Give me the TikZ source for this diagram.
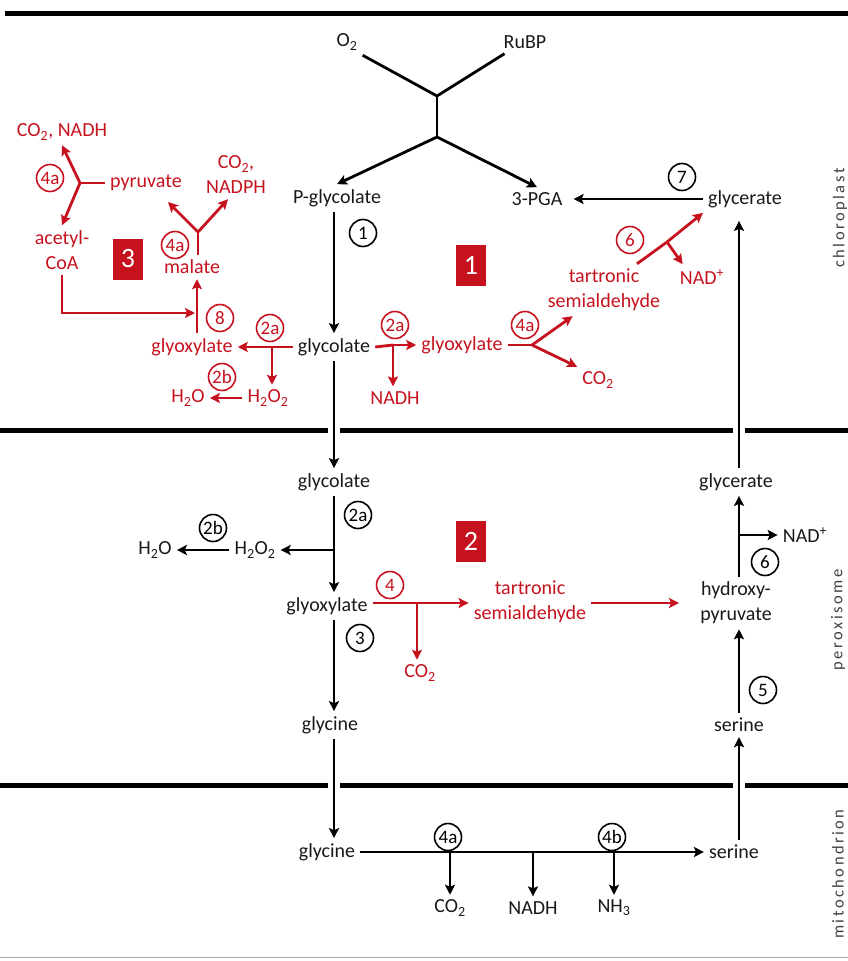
\documentclass[tikz,border=0pt]{standalone}
\usepackage{fontspec}
\setmainfont{Carlito}
\newfontfamily\sidefont[LetterSpace=15]{Carlito}
\usetikzlibrary{arrows.meta}
\definecolor{pathred}{RGB}{198,18,30}

\begin{document}
\begin{tikzpicture}[x=1pt, y=-1pt,
  lbl/.style={font=\fontsize{20}{25}\selectfont, inner xsep=5pt, inner ysep=5pt, text=black!90},
  rlbl/.style={lbl, text=pathred},
  ln/.style={line width=2.8pt},
  arr/.style={ln, -{Stealth[length=10pt,width=10pt,inset=2pt]}},
  rln/.style={ln, draw=pathred},
  rarr/.style={arr, draw=pathred},
  enz/.style={circle, draw, line width=1.6pt, minimum size=27pt, inner sep=0pt, font=\fontsize{19}{19}\selectfont},
  renz/.style={enz, draw=pathred, text=pathred},
  partbox/.style={fill=pathred, text=white, minimum width=30pt, minimum height=41pt, inner sep=0pt, font=\fontsize{28}{28}\selectfont},
  side/.style={rotate=90, font=\sidefont\fontsize{16.5}{16.5}\selectfont, text=black!75},
  membrane/.style={line width=5pt}]
\useasboundingbox (0,0) rectangle (848,961);
\draw[membrane] (5,13) -- (848,13);
\draw[membrane] (0,430) -- (848,430);
\draw[membrane] (0,785) -- (848,785);
\draw[black!35, line width=1pt] (0,957) -- (848,957);
\foreach \x/\y in {334/430, 739/430, 334/785, 739/785}
  \fill[white] (\x-6,\y-4) rectangle (\x+6,\y+4);

\node[side] (chl) at (840,218) {chloroplast};
\node[side] (per) at (838,620) {peroxisome};
\node[side] (mit) at (838,874) {mitochondrion};

\node[partbox] (b1) at (471,265) {1};
\node[partbox] (b2) at (471,541) {2};
\node[partbox] (b3) at (128,259) {3};

\node[lbl] (o2) at (347,42) {O\textsubscript{2}};
\node[lbl] (rubp) at (525,42) {RuBP};
\coordinate (jtop) at (437,96);
\coordinate (jbot) at (437,137);
\node[lbl] (pglyc) at (337,198) {P-glycolate};
\node[lbl] (pga) at (537,199) {3-PGA};
\node[lbl] (glyceC) at (745,199) {glycerate};
\node[lbl] (glycC) at (334,347) {glycolate};
\draw[ln] (o2.south east) -- (jtop) -- ([xshift=6pt]rubp.south west);
\draw[ln] (jtop) -- (jbot);
\draw[arr] (jbot) -- (pglyc.north);
\draw[arr] (jbot) -- (pga.north);
\draw[arr, shorten >=6pt] (glyceC.west) -- (pga.east);
\draw[arr] (pglyc.south -| glycC) -- (glycC.north);
\node[enz] (e1) at (363,233) {1};
\node[enz] (e7) at (682,177) {7};

\node[rlbl] (glyxL) at (192,347) {glyoxylate};
\node[rlbl] (h2o2C) at (268,398) {H\textsubscript{2}O\textsubscript{2}};
\node[rlbl] (h2oC) at (188,398) {H\textsubscript{2}O};
\node[rlbl] (malate) at (192,267) {malate};
\node[rlbl, align=center] (acoa) at (62,250) {acetyl-\\CoA};
\node[rlbl] (pyr) at (146,183) {pyruvate};
\node[rlbl] (co2nadh) at (62,132) {CO\textsubscript{2}, NADH};
\node[rlbl, align=center] (co2nadph) at (236,175) {CO\textsubscript{2},\\NADPH};
\coordinate (jL) at (272,347);
\coordinate (j8) at (197,313);
\coordinate (jm) at (198,232);
\coordinate (jp) at (80,183);
\coordinate (pyrin) at (168,202);
\draw[rln] (glycC.west) -- (jL);
\draw[rarr] (jL) -- (glyxL.east);
\draw[rarr] (jL) -- (jL |- h2o2C.north);
\draw[rarr] (h2o2C.west) -- (h2oC.east);
\draw[rarr] (glyxL.north -| j8) -- (malate.south -| j8);
\draw[rarr] (acoa.south) |- ([xshift=-2pt]j8);
\draw[rln] (malate.north -| jm) -- (jm);
\draw[rarr] (jm) -- (pyrin);
\draw[rarr] (jm) -- ([xshift=-8pt]co2nadph.south);
\draw[rln] (pyr.west) -- (jp);
\draw[rarr] (jp) -- (co2nadh.south);
\draw[rarr] (jp) -- (acoa.north);
\node[renz] (e4aPyr) at (50,178) {4a};
\node[renz] (e4aMal) at (175,245) {4a};
\node[renz] (e8) at (220,318) {8};
\node[renz] (e2aL) at (270,328) {2a};
\node[renz] (e2bL) at (222,377) {2b};

\node[rlbl] (glyxM) at (462,345) {glyoxylate};
\node[rlbl] (nadhC) at (395,398) {NADH};
\node[rlbl, align=center] (tartC) at (604,290) {tartronic\\semialdehyde};
\node[rlbl] (co2C) at (598,380) {CO\textsubscript{2}};
\node[rlbl] (nadC) at (702,277) {NAD\textsuperscript{+}};
\coordinate (jN) at (393,345);
\coordinate (jG) at (532,345);
\coordinate (j6) at (667,242);
\draw[rln] (glycC.east) -- (jN);
\draw[rarr] (jN) -- (glyxM.west);
\draw[rarr] (jN) -- (jN |- nadhC.north);
\draw[rln] (glyxM.east) -- (jG);
\draw[rarr] (jG) -- ([xshift=30pt]tartC.south west);
\draw[rarr] (jG) -- (co2C.north west);
\draw[rln] ([xshift=33pt]tartC.north) -- (j6);
\draw[rarr] (j6) -- (glyceC.south west);
\draw[rarr] (j6) -- ([xshift=8pt]nadC.north west);
\node[renz] (e2aM) at (395,325) {2a};
\node[renz] (e4aC) at (525,325) {4a};
\node[renz] (e6C) at (630,240) {6};

\node[lbl] (glycP) at (334,482) {glycolate};
\node[lbl] (h2o2P) at (255,550) {H\textsubscript{2}O\textsubscript{2}};
\node[lbl] (h2oP) at (155,550) {H\textsubscript{2}O};
\node[lbl] (glyxP) at (327,606) {glyoxylate};
\node[lbl] (glyP) at (330,725) {glycine};
\node[rlbl, align=center] (tartP) at (530,602) {tartronic\\semialdehyde};
\node[rlbl] (co2P) at (420,673) {CO\textsubscript{2}};
\node[lbl, align=center] (hydr) at (736,603) {hydroxy-\\pyruvate};
\node[lbl] (glyceP) at (736,482) {glycerate};
\node[lbl] (nadP) at (805,535) {NAD\textsuperscript{+}};
\node[lbl] (serP) at (739,725) {serine};
\coordinate (jH) at (334,550);
\coordinate (jC) at (417,603);
\coordinate (j6P) at (739,535);
\draw[arr] (glycC.south) -- (glycP.north);
\draw[arr] (glycP.south) -- (glyxP.north -| glycP);
\draw[arr] (jH) -- (h2o2P.east);
\draw[arr] (h2o2P.west) -- (h2oP.east);
\draw[rln] (glyxP.east |- jC) -- (jC);
\draw[rarr] (jC) -- (tartP.west |- jC);
\draw[rarr] (jC) -- (jC |- co2P.north);
\draw[rarr, shorten >=16pt] (tartP.east |- jC) -- (hydr.west |- jC);
\draw[arr] (glyxP.south -| glycP) -- (glyP.north -| glycP);
\draw[arr] (serP.north) -- (hydr.south -| serP);
\draw[arr] (hydr.north -| serP) -- (glyceP.south -| serP);
\draw[arr] (j6P) -- (nadP.west);
\draw[arr, shorten >=8pt] (glyceP.north -| serP) -- (glyceC.south -| serP);
\node[enz] (e2aP) at (358,515) {2a};
\node[enz] (e2bP) at (213,528) {2b};
\node[enz] (e3) at (360,638) {3};
\node[enz] (e5) at (763,690) {5};
\node[enz] (e6P) at (765,562) {6};
\node[renz] (e4P) at (390,585) {4};

\node[lbl] (glyM) at (327,852) {glycine};
\node[lbl] (serM) at (734,852) {serine};
\node[lbl] (co2M) at (450,908) {CO\textsubscript{2}};
\node[lbl] (nadhM) at (533,908) {NADH};
\node[lbl] (nh3M) at (614,908) {NH\textsubscript{3}};
\draw[arr] (glyP.south -| glycP) -- (glyM.north -| glycP);
\draw[arr] (serM.north -| serP) -- (serP.south);
\draw[arr] (glyM.east) -- (serM.west);
\foreach \n in {co2M, nadhM, nh3M}
  \draw[arr] (\n.north |- glyM.east) -- (\n.north);
\node[enz] (e4aMit) at (448,837) {4a};
\node[enz] (e4bMit) at (612,837) {4b};
\end{tikzpicture}
\end{document}
